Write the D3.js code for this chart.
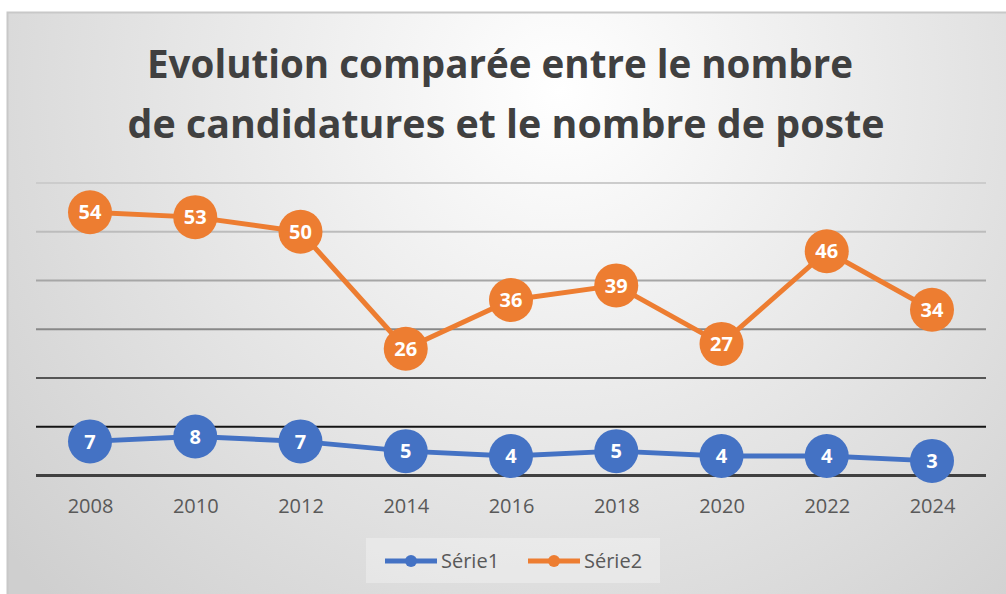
<!DOCTYPE html>
<html lang="fr">
<head>
<meta charset="UTF-8">
<title>Evolution comparée</title>
<script src="https://d3js.org/d3.v7.min.js"></script>
<style>
  body { margin: 0; background: #fff; }
  svg { display: block; }
  .tick-label { font-family: "Open Sans", sans-serif; font-size: 20px; fill: #595959; }
  .title { font-family: "Open Sans", sans-serif; font-weight: bold; font-size: 40px; fill: #404040; }
  .point-label { font-family: "Open Sans", sans-serif; font-weight: bold; font-size: 20px; fill: #fff; }
  .legend-label { font-family: "Open Sans", sans-serif; font-size: 20px; fill: #595959; }
</style>
</head>
<body>
<svg width="1006" height="594"></svg>
<script>
  // data
  const years = ["2008", "2010", "2012", "2014", "2016", "2018", "2020", "2022", "2024"];
  const serie1 = [7, 8, 7, 5, 4, 5, 4, 4, 3];
  const serie2 = [54, 53, 50, 26, 36, 39, 27, 46, 34];
  const yTicks = [0, 10, 20, 30, 40, 50, 60];
  const seriesNames = ["Série1", "Série2"];

  const colors = ["#4472C4", "#ED7D31"];
  // gridlines get darker towards the bottom in the original
  const gridColors = ["#404040", "#141414", "#555555", "#888888", "#a6a6a6", "#bcbcbc", "#cccccc"];

  const svg = d3.select("svg");

  // background with radial gradient
  const defs = svg.append("defs");
  const grad = defs.append("radialGradient")
      .attr("id", "bg")
      .attr("gradientUnits", "userSpaceOnUse")
      .attr("cx", 560).attr("cy", 90).attr("r", 720);
  grad.append("stop").attr("offset", "0%").attr("stop-color", "#ffffff");
  grad.append("stop").attr("offset", "100%").attr("stop-color", "#cfcfcf");

  svg.append("rect")
      .attr("x", 7.5).attr("y", 12.5)
      .attr("width", 1010).attr("height", 600)
      .attr("fill", "url(#bg)")
      .attr("stroke", "#c8c8c8")
      .attr("stroke-width", 2);

  // title
  const title = svg.append("text").attr("class", "title").attr("text-anchor", "middle");
  title.append("tspan").attr("x", 500).attr("y", 78)
      .attr("textLength", 706).attr("lengthAdjust", "spacingAndGlyphs")
      .text("Evolution comparée entre le nombre");
  title.append("tspan").attr("x", 506).attr("y", 138)
      .attr("textLength", 757).attr("lengthAdjust", "spacingAndGlyphs")
      .text("de candidatures et le nombre de poste");

  // scales
  const x = d3.scalePoint().domain(years).range([90, 932]);
  const y = d3.scaleLinear().domain([0, 60]).range([475.5, 183]);

  // gridlines
  svg.append("g")
    .selectAll("line")
    .data(yTicks)
    .join("line")
      .attr("x1", 36).attr("x2", 986)
      .attr("y1", d => y(d)).attr("y2", d => y(d))
      .attr("stroke", (d, i) => gridColors[i])
      .attr("stroke-width", (d, i) => i === 0 ? 3 : 2);

  // x axis labels
  const xAxis = svg.append("g")
      .attr("transform", "translate(0,490)")
      .call(d3.axisBottom(x).tickSize(0).tickPadding(0));
  xAxis.select(".domain").remove();
  xAxis.selectAll("text")
      .attr("class", "tick-label")
      .attr("dy", "0")
      .attr("y", 23)
      .attr("font-size", null)
      .attr("font-family", null)
      .attr("fill", null);

  const line = d3.line().x((d, i) => x(years[i])).y(d => y(d));
  const all = [serie1, serie2];

  all.forEach((s, k) => {
    const g = svg.append("g");
    g.append("path")
        .datum(s)
        .attr("d", line)
        .attr("fill", "none")
        .attr("stroke", colors[k])
        .attr("stroke-width", 5)
        .attr("stroke-linejoin", "round");
    g.selectAll("circle")
      .data(s)
      .join("circle")
        .attr("cx", (d, i) => x(years[i]))
        .attr("cy", d => y(d))
        .attr("r", 22)
        .attr("fill", colors[k]);
    g.selectAll("text")
      .data(s)
      .join("text")
        .attr("class", "point-label")
        .attr("x", (d, i) => x(years[i]))
        .attr("y", d => y(d))
        .attr("dy", "0.36em")
        .attr("text-anchor", "middle")
        .text(d => d);
  });

  // legend
  const legend = svg.append("g");
  legend.append("rect")
      .attr("x", 366).attr("y", 538)
      .attr("width", 294).attr("height", 45)
      .attr("fill", "#ffffff").attr("opacity", 0.3);
  const legX = [385, 528];
  seriesNames.forEach((n, k) => {
    const lg = legend.append("g").attr("transform", `translate(${legX[k]},561)`);
    lg.append("line").attr("x1", 0).attr("x2", 52)
        .attr("stroke", colors[k]).attr("stroke-width", 5);
    lg.append("circle").attr("cx", 26).attr("r", 6).attr("fill", colors[k]);
    lg.append("text").attr("class", "legend-label")
        .attr("x", 56).attr("dy", "0.35em").text(n);
  });
</script>
</body>
</html>
